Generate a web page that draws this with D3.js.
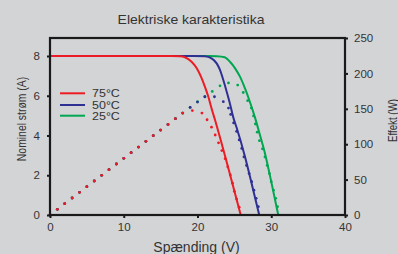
<!DOCTYPE html>
<html>
<head>
<meta charset="utf-8">
<script src="https://cdn.jsdelivr.net/npm/d3@7/dist/d3.min.js"></script>
<style>
  html, body { margin: 0; padding: 0; background: #d3d4d6; }
  svg { display: block; font-family: "Liberation Sans", Arial, sans-serif; }
</style>
</head>
<body>
<div id="chart"></div>
<script>
// series labels (legend order)
const seriesNames = ["75°C", "50°C", "25°C"];

// I-V curves: [volt, ampere]
const ivRed = [[0, 8], [16.5, 8], [17.6, 7.99], [18.3, 7.94], [19.2, 7.71], [19.9, 7.38], [20.47, 6.96],
  [21.0, 6.46], [21.47, 5.95], [21.9, 5.37], [22.4, 4.75], [22.9, 4.1], [24.4, 2.05], [25.86, 0]];
const ivBlue = [[0, 8], [19.5, 8], [21.0, 7.99], [21.9, 7.88], [22.6, 7.63], [23.05, 7.3], [23.5, 6.79],
  [23.96, 6.2], [24.4, 5.6], [24.86, 4.9], [25.3, 4.4], [26.44, 2.93], [27.34, 1.59], [28.37, 0]];
const ivGreen = [[0, 8], [21.5, 8], [22.6, 7.99], [23.7, 7.94], [24.4, 7.71], [25.1, 7.38], [25.76, 6.96],
  [26.44, 6.37], [27.1, 5.7], [27.8, 4.9], [28.45, 4.05], [29.15, 3.1], [30.05, 1.59], [30.95, 0]];

// power dots: [volt, watt]
const pRed = [[0, 0], [1, 8], [2, 16], [3, 24], [4, 32], [5, 40], [6, 48], [7, 56], [8, 64], [9, 72],
  [10, 80], [11, 88], [12, 96], [13, 104], [14, 112], [15, 120], [16, 128], [17, 136], [18, 144],
  [19.3, 147.5], [20.6, 144], [21.3, 134.5], [21.9, 124], [22.4, 113], [22.85, 102], [23.3, 91],
  [23.75, 79.5], [24.1, 68], [24.45, 56.5], [24.75, 45], [25.0, 33.5], [25.3, 22.5], [25.65, 11]];
const pBlue = [[0, 0], [1, 8], [2, 16], [3, 24], [4, 32], [5, 40], [6, 48], [7, 56], [8, 64], [9, 72],
  [10, 80], [11, 88], [12, 96], [13, 104], [14, 112], [15, 120], [16, 128], [17, 136], [18, 144],
  [19, 152], [20, 159.5], [21, 167], [22.3, 167], [23.5, 160], [24.2, 151], [24.5, 142], [24.9, 130],
  [25.3, 118], [25.65, 106], [26.0, 94], [26.3, 82], [26.65, 70], [27.0, 58.5], [27.35, 47],
  [27.65, 35], [27.95, 23.5], [28.25, 11.7]];
const pGreen = [[0, 0], [1, 8], [2, 16], [3, 24], [4, 32], [5, 40], [6, 48], [7, 56], [8, 64], [9, 72],
  [10, 80], [11, 88], [12, 96], [13, 104], [14, 112], [15, 120], [16, 128], [17, 136], [18, 144],
  [19, 152], [20, 160], [21, 167], [22, 174.5], [23.05, 182.5], [24.2, 186.5], [25.45, 183.5],
  [26.2, 173], [26.8, 161.5], [27.3, 151], [27.6, 140], [27.85, 128.5], [28.1, 117], [28.4, 105],
  [28.8, 93.5], [29.15, 82], [29.45, 70], [29.75, 58.5], [30.0, 47], [30.3, 35], [30.6, 23.5], [30.85, 11.7]];

// tick values
const voltTicks = [0, 10, 20, 30, 40];
const ampTicks = [0, 2, 4, 6, 8];
const wattTicks = [0, 50, 100, 150, 200, 250];

const W = 398, H = 254;
const colors = ["#ed1c24", "#2e3192", "#00a651"];

const svg = d3.select("#chart").append("svg")
    .attr("width", W)
    .attr("height", H);

const x = d3.scaleLinear().domain([0, 40]).range([50, 345]);
const yA = d3.scaleLinear().domain([0, 8]).range([215, 56]);
const yW = d3.scaleLinear().domain([0, 250]).range([215, 38]);

// title
svg.append("text")
    .attr("transform", "translate(191,24.3) scale(1,0.93)")
    .attr("text-anchor", "middle")
    .style("font-size", "14px")
    .style("fill", "#333")
    .text("Elektriske karakteristika");

// curves (green first so red sits on top)
const line = d3.line()
    .x(d => x(d[0]))
    .y(d => yA(d[1]))
    .curve(d3.curveMonotoneX);

const ivSets = [ivRed, ivBlue, ivGreen];
const pSets = [pRed, pBlue, pGreen];

[2, 1, 0].forEach(function(i) {
    svg.append("path")
        .attr("d", line(ivSets[i]))
        .attr("fill", "none")
        .attr("stroke", colors[i])
        .attr("stroke-width", 2);
});

[2, 1, 0].forEach(function(i) {
    svg.append("g").selectAll("circle")
        .data(pSets[i])
        .enter().append("circle")
        .attr("cx", d => x(d[0]))
        .attr("cy", d => yW(d[1]))
        .attr("r", 1.4)
        .attr("fill", colors[i]);
});

// axes
const tickStyle = function(g) {
    g.select(".domain").remove();
    g.selectAll(".tick line").attr("stroke", "#1a1a1a").attr("stroke-width", 2);
    g.selectAll(".tick text").style("font-size", "11.5px").style("fill", "#333")
        .style("font-family", "'Liberation Sans', Arial, sans-serif");
};

svg.append("g")
    .attr("transform", "translate(0,215)")
    .call(d3.axisBottom(x).tickValues(voltTicks).tickSize(3).tickPadding(5))
    .call(tickStyle);

svg.append("g")
    .attr("transform", "translate(50,0)")
    .call(d3.axisLeft(yA).tickValues(ampTicks).tickSize(3).tickPadding(7))
    .call(tickStyle);

svg.append("g")
    .attr("transform", "translate(345,0)")
    .call(d3.axisRight(yW).tickValues(wattTicks).tickSize(3).tickPadding(6))
    .call(tickStyle);

// frame
svg.append("rect")
    .attr("x", x(0)).attr("y", yW(250))
    .attr("width", x(40) - x(0))
    .attr("height", yW(0) - yW(250))
    .attr("fill", "none")
    .attr("stroke", "#1a1a1a")
    .attr("stroke-width", 2.2);

// axis titles
svg.append("text")
    .attr("x", 196.5).attr("y", 251.5)
    .attr("text-anchor", "middle")
    .style("font-size", "14px")
    .style("fill", "#333")
    .text("Spænding (V)");

svg.append("text")
    .attr("transform", "translate(26,119) rotate(-90) scale(0.8,1)")
    .attr("text-anchor", "middle")
    .style("font-size", "13px")
    .style("fill", "#333")
    .text("Nominel strøm (A)");

svg.append("text")
    .attr("transform", "translate(396.5,120.5) rotate(-90) scale(0.75,1)")
    .attr("text-anchor", "middle")
    .style("font-size", "13px")
    .style("fill", "#333")
    .text("Effekt (W)");

// legend
const legend = svg.selectAll(".legend")
    .data(seriesNames)
    .enter().append("g")
    .attr("class", "legend")
    .attr("transform", (d, i) => "translate(60," + [93.3, 105, 115.7][i] + ")");

legend.append("line")
    .attr("x1", 0).attr("x2", 25)
    .attr("stroke", (d, i) => colors[i])
    .attr("stroke-width", 2);

legend.append("text")
    .attr("transform", "translate(32,3.8) scale(1,0.8)")
    .style("font-size", "12.5px")
    .style("fill", "#333")
    .text(d => d);
</script>
</body>
</html>
